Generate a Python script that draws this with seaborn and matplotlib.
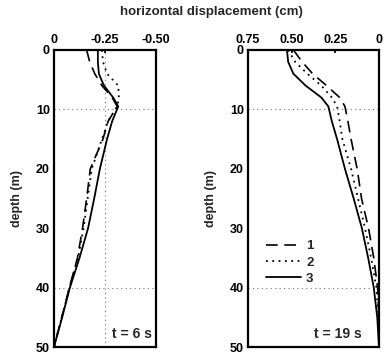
import matplotlib
matplotlib.use("Agg")
import matplotlib.pyplot as plt
import seaborn as sns
import pandas as pd

# depth below surface (m)
depth = [0, 2, 4, 6, 8, 9.5, 12, 15, 20, 25, 30, 35, 40, 45, 50]

# horizontal displacement (cm) at t = 6 s
t6_case1 = [-0.16, -0.175, -0.20, -0.235, -0.285, -0.31, -0.265, -0.24, -0.178, -0.16, -0.14, -0.115, -0.075, -0.038, 0.0]
t6_case2 = [-0.235, -0.24, -0.26, -0.315, -0.318, -0.31, -0.265, -0.235, -0.185, -0.165, -0.145, -0.118, -0.076, -0.038, 0.0]
t6_case3 = [-0.215, -0.215, -0.22, -0.245, -0.29, -0.315, -0.285, -0.26, -0.225, -0.197, -0.167, -0.125, -0.078, -0.04, 0.0]

# horizontal displacement (cm) at t = 19 s
t19_case1 = [0.49, 0.44, 0.38, 0.30, 0.225, 0.195, 0.178, 0.16, 0.125, 0.10, 0.06, 0.03, 0.008, 0.0, 0.0]
t19_case2 = [0.52, 0.48, 0.41, 0.33, 0.27, 0.24, 0.225, 0.21, 0.16, 0.12, 0.08, 0.045, 0.015, 0.003, 0.0]
t19_case3 = [0.527, 0.52, 0.49, 0.42, 0.33, 0.29, 0.27, 0.24, 0.195, 0.145, 0.098, 0.062, 0.03, 0.01, 0.0]

cases = ["1", "2", "3"]
depth_ticks = [0, 10, 20, 30, 40, 50]
t6_ticks = [0, -0.25, -0.50]
t6_ticklabels = ["0", "-0.25", "-0.50"]
t19_ticks = [0.75, 0.50, 0.25, 0]
t19_ticklabels = ["0.75", "0.50", "0.25", "0"]

sns.set_theme(style="white")
plt.rcParams["font.family"] = ["Liberation Sans", "DejaVu Sans"]
plt.rcParams["font.weight"] = "bold"

styles = {"1": dict(linestyle=(0, (7, 4)), linewidth=1.2),
          "2": dict(linestyle=(0, (1, 2.5)), linewidth=1.3),
          "3": dict(linestyle="-", linewidth=1.3)}


def make_frame(series):
    rows = []
    for case, vals in zip(cases, series):
        for d, v in zip(depth, vals):
            rows.append({"case": case, "depth": d, "disp": v})
    return pd.DataFrame(rows)


fig = plt.figure(figsize=(3.84, 3.56), dpi=100)
ax_bottom = 1 - 347 / 356
ax_height = 297 / 356
ax1 = fig.add_axes([54 / 384, ax_bottom, 102 / 384, ax_height])
ax2 = fig.add_axes([248 / 384, ax_bottom, 131 / 384, ax_height])

panels = [
    (ax1, make_frame([t6_case1, t6_case2, t6_case3]), (0, -0.5), t6_ticks, t6_ticklabels, "t = 6 s", 0.96, [-0.25]),
    (ax2, make_frame([t19_case1, t19_case2, t19_case3]), (0.75, 0), t19_ticks, t19_ticklabels, "t = 19 s", 0.87, []),
]

for ax, df, xlim, xt, xtl, tlabel, tx, vgrid in panels:
    for y in [10, 40]:
        ax.axhline(y, color="#777777", linestyle=(0, (1, 3)), linewidth=0.8, zorder=1)
    for x in vgrid:
        ax.axvline(x, color="#777777", linestyle=(0, (1, 3)), linewidth=0.8, zorder=1)
    for case in cases:
        sub = df[df["case"] == case]
        sns.lineplot(data=sub, x="disp", y="depth", sort=False, estimator=None,
                     color="black", ax=ax, label=case, zorder=3, **styles[case])
    ax.set_xlim(*xlim)
    ax.set_ylim(50, 0)
    ax.xaxis.tick_top()
    ax.set_xticks(xt)
    ax.set_xticklabels(xtl)
    ax.set_yticks(depth_ticks)
    ax.set_xlabel("")
    ax.set_ylabel("depth (m)", fontsize=9, fontweight="bold", labelpad=9)
    ax.tick_params(axis="both", labelsize=9, length=2, direction="in", pad=3, colors="black")
    for lab in ax.get_xticklabels() + ax.get_yticklabels():
        lab.set_fontweight("bold")
    for s in ax.spines.values():
        s.set_color("black")
        s.set_linewidth(1.6)
    ax.text(tx, 0.045, tlabel, transform=ax.transAxes, ha="right", va="center",
            fontsize=10, fontweight="bold")
    ax.get_legend().remove()

leg = ax2.legend(*ax2.get_legend_handles_labels(), loc="upper left",
                 bbox_to_anchor=(0.05, 0.40), frameon=False, handlelength=2.6,
                 handletextpad=0.4, labelspacing=0.3, fontsize=9.5)
for t in leg.get_texts():
    t.set_fontweight("bold")

fig.text(0.55, 0.965, "horizontal displacement (cm)", ha="center", va="center",
         fontsize=9.5, fontweight="bold")

fig.savefig("out.png", dpi=100)
